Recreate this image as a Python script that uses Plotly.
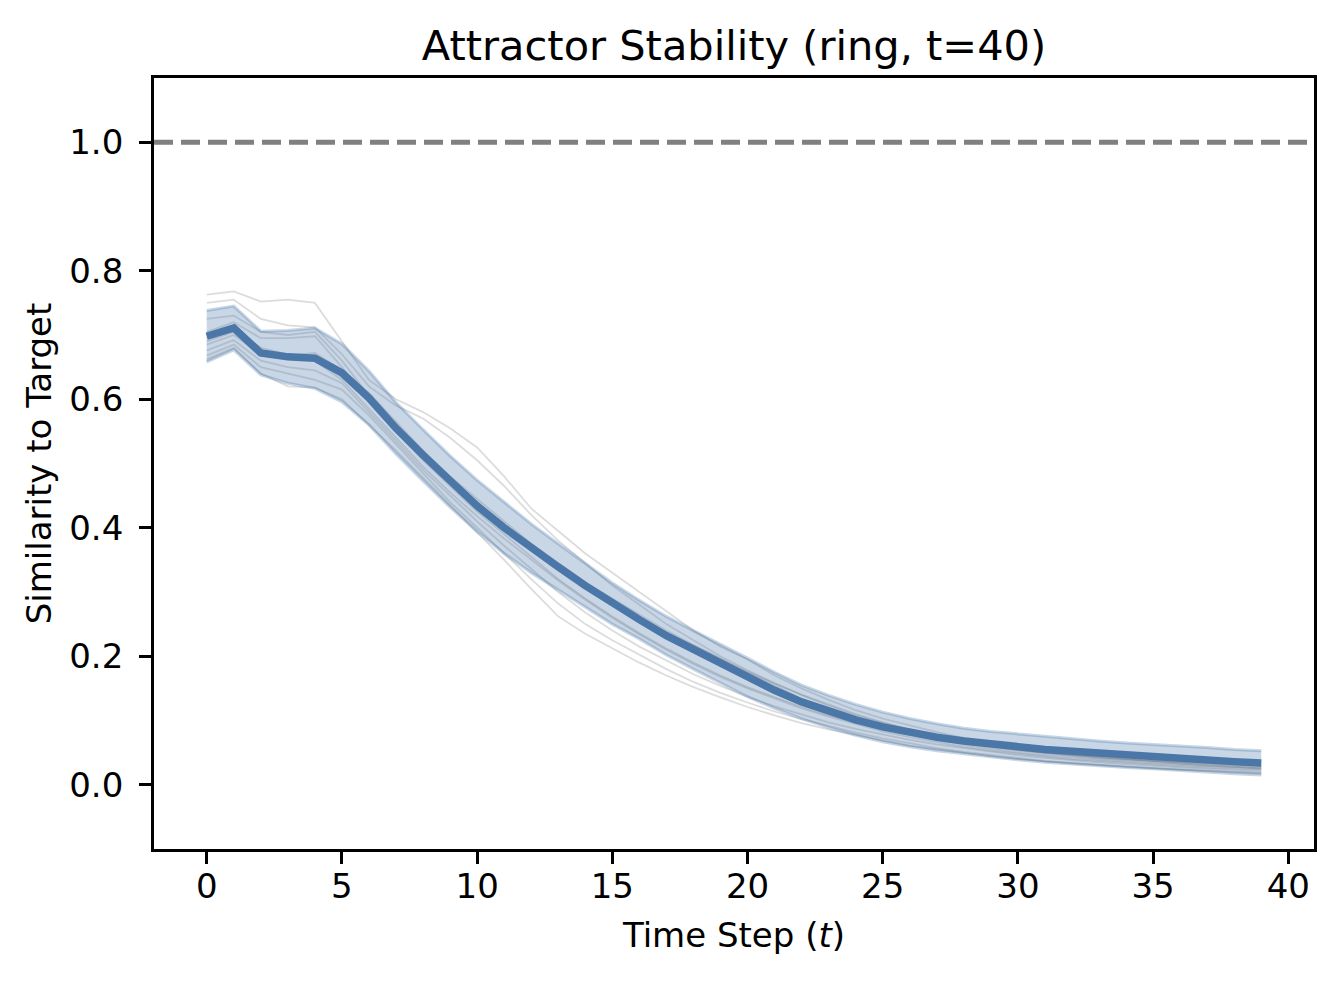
import numpy as np
import plotly.graph_objects as go

# ---------------- data ----------------
time_steps = list(range(40))

mean_similarity = [0.698, 0.711, 0.672, 0.666, 0.664, 0.641, 0.602, 0.555, 0.513, 0.472,
                   0.434, 0.400, 0.368, 0.339, 0.310, 0.282, 0.257, 0.232, 0.210, 0.189,
                   0.167, 0.147, 0.129, 0.114, 0.101, 0.090, 0.081, 0.074, 0.068, 0.063,
                   0.059, 0.055, 0.052, 0.049, 0.046, 0.044, 0.041, 0.039, 0.036, 0.034]

std_similarity = [0.040, 0.034, 0.034, 0.041, 0.047, 0.045, 0.042, 0.040, 0.040, 0.040,
                  0.040, 0.040, 0.038, 0.036, 0.034, 0.032, 0.030, 0.030, 0.030, 0.030,
                  0.030, 0.028, 0.026, 0.025, 0.024, 0.023, 0.022, 0.021, 0.020, 0.020,
                  0.020, 0.020, 0.020, 0.019, 0.019, 0.019, 0.019, 0.019, 0.019, 0.019]

run_01 = [0.763, 0.768, 0.752, 0.755, 0.750, 0.690, 0.630, 0.600, 0.580, 0.555,
          0.525, 0.480, 0.430, 0.395, 0.360, 0.330, 0.300, 0.270, 0.240, 0.215,
          0.195, 0.170, 0.150, 0.132, 0.116, 0.103, 0.092, 0.082, 0.073, 0.066,
          0.059, 0.053, 0.048, 0.044, 0.040, 0.036, 0.033, 0.030, 0.028, 0.026]
run_02 = [0.750, 0.755, 0.725, 0.715, 0.712, 0.670, 0.620, 0.590, 0.570, 0.540,
          0.505, 0.465, 0.420, 0.380, 0.345, 0.310, 0.280, 0.250, 0.225, 0.200,
          0.178, 0.158, 0.140, 0.123, 0.108, 0.096, 0.085, 0.075, 0.067, 0.060,
          0.054, 0.049, 0.045, 0.041, 0.038, 0.035, 0.032, 0.030, 0.028, 0.025]
run_03 = [0.725, 0.730, 0.705, 0.700, 0.705, 0.660, 0.605, 0.560, 0.520, 0.480,
          0.445, 0.410, 0.375, 0.345, 0.315, 0.290, 0.265, 0.240, 0.218, 0.196,
          0.176, 0.158, 0.140, 0.125, 0.110, 0.097, 0.086, 0.077, 0.069, 0.062,
          0.056, 0.051, 0.047, 0.043, 0.040, 0.037, 0.034, 0.032, 0.030, 0.028]
run_04 = [0.705, 0.720, 0.695, 0.695, 0.698, 0.650, 0.595, 0.550, 0.505, 0.465,
          0.425, 0.390, 0.355, 0.320, 0.290, 0.262, 0.236, 0.212, 0.190, 0.170,
          0.152, 0.136, 0.121, 0.108, 0.097, 0.087, 0.078, 0.071, 0.064, 0.058,
          0.053, 0.049, 0.045, 0.042, 0.039, 0.037, 0.035, 0.033, 0.031, 0.030]
run_05 = [0.695, 0.710, 0.680, 0.670, 0.665, 0.640, 0.600, 0.560, 0.515, 0.475,
          0.440, 0.405, 0.372, 0.342, 0.313, 0.285, 0.260, 0.236, 0.214, 0.194,
          0.175, 0.155, 0.133, 0.118, 0.104, 0.092, 0.082, 0.073, 0.066, 0.060,
          0.055, 0.050, 0.046, 0.043, 0.040, 0.037, 0.035, 0.033, 0.031, 0.029]
run_06 = [0.685, 0.700, 0.670, 0.665, 0.660, 0.630, 0.585, 0.540, 0.495, 0.455,
          0.418, 0.383, 0.350, 0.318, 0.288, 0.260, 0.234, 0.210, 0.188, 0.168,
          0.150, 0.134, 0.119, 0.106, 0.094, 0.083, 0.074, 0.066, 0.059, 0.053,
          0.048, 0.044, 0.040, 0.037, 0.034, 0.031, 0.029, 0.027, 0.025, 0.024]
run_07 = [0.676, 0.692, 0.660, 0.650, 0.645, 0.625, 0.580, 0.535, 0.490, 0.450,
          0.410, 0.372, 0.336, 0.300, 0.268, 0.240, 0.215, 0.193, 0.172, 0.154,
          0.137, 0.122, 0.109, 0.097, 0.087, 0.078, 0.070, 0.063, 0.057, 0.051,
          0.046, 0.042, 0.038, 0.035, 0.032, 0.029, 0.027, 0.025, 0.023, 0.022]
run_08 = [0.668, 0.685, 0.650, 0.640, 0.630, 0.615, 0.575, 0.530, 0.485, 0.440,
          0.400, 0.360, 0.320, 0.282, 0.250, 0.225, 0.202, 0.180, 0.160, 0.143,
          0.128, 0.114, 0.102, 0.091, 0.081, 0.072, 0.064, 0.057, 0.051, 0.046,
          0.041, 0.037, 0.034, 0.031, 0.028, 0.026, 0.024, 0.022, 0.020, 0.019]
run_09 = [0.662, 0.680, 0.640, 0.620, 0.618, 0.600, 0.560, 0.520, 0.478, 0.435,
          0.392, 0.350, 0.305, 0.262, 0.235, 0.212, 0.190, 0.170, 0.152, 0.136,
          0.121, 0.108, 0.096, 0.086, 0.077, 0.069, 0.061, 0.055, 0.049, 0.044,
          0.040, 0.036, 0.033, 0.030, 0.027, 0.025, 0.023, 0.021, 0.019, 0.018]
run_10 = [0.690, 0.705, 0.675, 0.668, 0.672, 0.645, 0.610, 0.565, 0.520, 0.478,
          0.440, 0.404, 0.370, 0.338, 0.308, 0.282, 0.258, 0.236, 0.216, 0.197,
          0.172, 0.150, 0.131, 0.115, 0.101, 0.089, 0.079, 0.070, 0.062, 0.056,
          0.050, 0.046, 0.042, 0.039, 0.036, 0.033, 0.031, 0.029, 0.027, 0.026]

individual_runs = [run_01, run_02, run_03, run_04, run_05,
                   run_06, run_07, run_08, run_09, run_10]

target_similarity = 1.0

x_tick_values = [0, 5, 10, 15, 20, 25, 30, 35, 40]
y_tick_values = [0.0, 0.2, 0.4, 0.6, 0.8, 1.0]

# ---------------- figure ----------------
FONT = "DejaVu Sans"
BLUE = "rgb(74,118,168)"

mean_arr = np.array(mean_similarity)
std_arr = np.array(std_similarity)
upper = mean_arr + std_arr
lower = mean_arr - std_arr

fig = go.Figure()

for run in individual_runs:
    fig.add_trace(go.Scatter(
        x=time_steps, y=run, mode="lines",
        line=dict(color="rgba(128,128,128,0.28)", width=1.8),
        showlegend=False, hoverinfo="skip"))

fig.add_trace(go.Scatter(
    x=time_steps, y=lower, mode="lines",
    line=dict(color="rgba(74,118,168,0.3)", width=3),
    showlegend=False, hoverinfo="skip"))
fig.add_trace(go.Scatter(
    x=time_steps, y=upper, mode="lines", fill="tonexty",
    fillcolor="rgba(74,118,168,0.3)",
    line=dict(color="rgba(74,118,168,0.3)", width=3),
    showlegend=False, hoverinfo="skip"))

fig.add_trace(go.Scatter(
    x=time_steps, y=mean_similarity, mode="lines",
    line=dict(color=BLUE, width=7.5),
    showlegend=False))

fig.add_hline(y=target_similarity, line=dict(color="#808080", width=5, dash="19px,8px"))

axis_common = dict(
    showline=True, linecolor="black", linewidth=2.8, mirror=True,
    ticks="outside", ticklen=12, tickwidth=2.8, tickcolor="black",
    showgrid=False, zeroline=False,
    tickfont=dict(family=FONT, size=34, color="black"),
)

fig.update_layout(
    width=1332, height=976,
    margin=dict(l=146, r=26, t=70, b=135),
    paper_bgcolor="white", plot_bgcolor="white",
    font=dict(family=FONT, color="black"),
    title=dict(text="Attractor Stability (ring, t=40)",
               font=dict(family=FONT, size=41.5, color="black"),
               x=0.5, xref="paper", xanchor="center",
               y=1, yref="paper", yanchor="bottom", pad=dict(b=18)),
    xaxis=dict(range=[-1.95, 40.95], tickvals=x_tick_values,
               ticklabelstandoff=-7,
               title=dict(text="Time Step (<i>t</i>)", font=dict(family=FONT, size=34), standoff=19),
               **axis_common),
    yaxis=dict(range=[-0.1, 1.1], tickvals=y_tick_values, tickformat=".1f",
               ticklabelstandoff=9,
               title=dict(text="Similarity to Target", font=dict(family=FONT, size=34), standoff=8),
               **axis_common),
    showlegend=False,
)

fig.write_html("out.html")
